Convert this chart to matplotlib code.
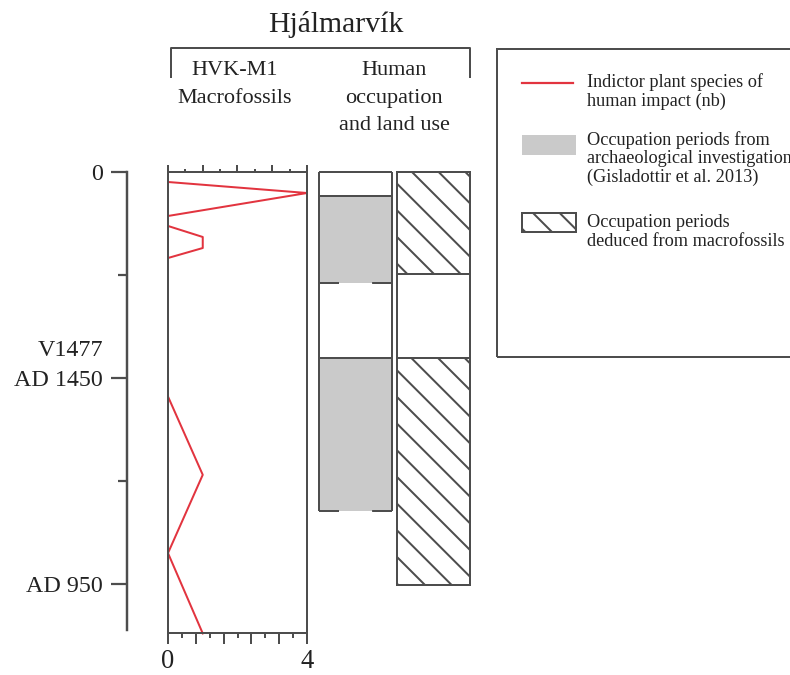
"""plot.py -- Hjalmarvik macrofossil / occupation diagram."""
import matplotlib as mpl
mpl.use('Agg')
import numpy as np
import matplotlib.pyplot as plt
from matplotlib.lines import Line2D
from matplotlib.patches import Rectangle

# ---- data (depth in core units, 0 = top of core) ----
site = 'Hjálmarvík'
depth_ticks = [0, 20, 40]
depth_labels = ['0', 'AD 1450', 'AD 950']
depth_minor = [10, 30]
tephra_label = 'V1477'

macro_depth = [0, 0.97, 2.04, 4.27, 5.24, 6.31, 7.38, 8.35, 21.8, 29.4, 37.0, 44.8]
macro_count = [0, 0, 4, 0, 0, 1, 1, 0, 0, 1, 0, 1]

archaeo_edges = [0, 2.33, 10.78, 18.06, 32.9]
archaeo_occupied = [False, True, False, True]
archaeo_edge_dashed = [False, False, True, False, True]

fossil_edges = [0, 9.9, 18.06, 40.1]
fossil_occupied = [True, False, True]

legend_labels = ['Indictor plant species of\nhuman impact (nb)',
                 'Occupation periods from\narchaeological investigation\n(Gisladottir et al. 2013)',
                 'Occupation periods\ndeduced from macrofossils']

W, H = 790, 675
DPI = 160
D_MAX = 44.8
LC = '#4d4d4d'      # line colour
GREY = '#cacaca'
RED = '#e2343f'
LW = 0.9
HATCH = '\\\\'

mpl.rcParams.update({'font.family': ['Liberation Serif', 'DejaVu Serif'],
                     'lines.scale_dashes': False,
                     'hatch.linewidth': 0.9,
                     'hatch.color': LC,
                     'axes.edgecolor': LC,
                     'xtick.color': LC,
                     'ytick.color': LC,
                     'xtick.labelcolor': '#222222',
                     'ytick.labelcolor': '#222222',
                     'text.color': '#222222'})


def box(x0, y0, x1, y1):
    # pixel box (top-left origin) -> figure fraction rect
    return [x0 / W, 1 - y1 / H, (x1 - x0) / W, (y1 - y0) / H]


def fx(x):
    return x / W


def fy(y):
    return 1 - y / H


fig = plt.figure(figsize=(W / DPI, H / DPI), dpi=DPI)
y_top, y_bot = 172, 172 + D_MAX * 10.3

# depth axis
ax_d = fig.add_axes(box(127, y_top, 128, y_bot))
ax_d.set_ylim(D_MAX, 0)
for s in ['top', 'bottom', 'right']:
    ax_d.spines[s].set_visible(False)
ax_d.spines['left'].set_bounds(0, 44.5)
ax_d.spines['left'].set_linewidth(1.1)
ax_d.set_xticks([])
ax_d.set_yticks(depth_ticks)
ax_d.set_yticklabels(depth_labels, fontsize=10.8)
ax_d.set_yticks(depth_minor, minor=True)
ax_d.tick_params(axis='y', which='major', length=7.2, width=1.0, pad=3.5)
ax_d.tick_params(axis='y', which='minor', length=4, width=1.0)
ax_d.annotate(tephra_label, xy=(0, depth_ticks[1]), xycoords=('axes fraction', 'data'),
              xytext=(-10.7, 13.5), textcoords='offset points',
              ha='right', va='center_baseline', fontsize=10.8)

# macrofossil panel
ax_m = fig.add_axes(box(168, y_top, 307, y_bot))
ax_m.plot(macro_count, macro_depth, color=RED, lw=0.9, clip_on=False)
ax_m.set_xlim(0, 4)
ax_m.set_ylim(D_MAX, 0)
ax_m.set_yticks([])
for s in ax_m.spines.values():
    s.set_linewidth(LW)
ax_m.set_xticks(np.arange(0, 4.01, 0.8))
ax_m.set_xticklabels(['0', '', '', '', '', '4'], fontsize=12)
ax_m.set_xticks(np.arange(0.4, 4, 0.8), minor=True)
ax_m.tick_params(axis='x', which='major', length=5, width=LW, pad=2)
ax_m.tick_params(axis='x', which='minor', length=2.3, width=LW)
ax_t = ax_m.twiny()
ax_t.set_xlim(0, 4)
ax_t.set_xticks(np.arange(0, 4.01, 1))
ax_t.set_xticks(np.arange(0.5, 4, 1), minor=True)
ax_t.set_xticklabels([])
ax_t.tick_params(axis='x', which='major', length=3.2, width=LW)
ax_t.tick_params(axis='x', which='minor', length=1.4, width=LW)
for s in ax_t.spines.values():
    s.set_visible(False)

# archaeological occupation column
ax_a = fig.add_axes(box(319, y_top - 1, 392, y_bot))
ax_a.set_xlim(0, 1)
ax_a.set_ylim(D_MAX, -0.1)
ax_a.axis('off')
for i, occ in enumerate(archaeo_occupied):
    if occ:
        ax_a.bar(0.5, archaeo_edges[i + 1] - archaeo_edges[i], bottom=archaeo_edges[i],
                 width=1, color=GREY, lw=0)
ax_a.vlines([0, 1], archaeo_edges[0], archaeo_edges[-1], color=LC, lw=LW, clip_on=False)
for e, dashed in zip(archaeo_edges, archaeo_edge_dashed):
    ls = (0, (9, 14.9)) if dashed else 'solid'
    ax_a.hlines(e, 0, 1, color=LC, lw=LW, linestyles=[ls], clip_on=False)

# macrofossil-deduced occupation column
ax_h = fig.add_axes(box(397, y_top - 1, 470, y_bot))
ax_h.set_xlim(0, 1)
ax_h.set_ylim(D_MAX, -0.1)
ax_h.axis('off')
for i, occ in enumerate(fossil_occupied):
    ax_h.bar(0.5, fossil_edges[i + 1] - fossil_edges[i], bottom=fossil_edges[i], width=1,
             facecolor='white', edgecolor=LC, lw=LW, hatch=HATCH if occ else None,
             clip_on=False)

# header
fig.text(fx(336), fy(25), site, ha='center', va='center', fontsize=13.4)
fig.add_artist(Line2D([fx(171), fx(171), fx(470), fx(470)],
                      [fy(77), fy(48), fy(48), fy(77)], color=LC, lw=LW,
                      transform=fig.transFigure))
fig.text(fx(235), fy(61), 'HVK-M1\nMacrofossils', ha='center', va='top',
         fontsize=10, linespacing=1.62)
fig.text(fx(394), fy(61), 'Human\noccupation\nand land use', ha='center', va='top',
         fontsize=10, linespacing=1.62)

# legend
fig.add_artist(Rectangle((fx(497), fy(357)), fx(810) - fx(497), fy(49) - fy(357),
                         transform=fig.transFigure, fill=False, ec=LC, lw=LW))
fig.add_artist(Line2D([fx(522), fx(573)], [fy(83), fy(83)], color=RED, lw=1.0,
                      transform=fig.transFigure))
fig.add_artist(Rectangle((fx(522), fy(155)), fx(576) - fx(522), fy(135) - fy(155),
                         transform=fig.transFigure, color=GREY, lw=0))
fig.add_artist(Rectangle((fx(522), fy(232)), fx(576) - fx(522), fy(213) - fy(232),
                         transform=fig.transFigure, facecolor='white', edgecolor=LC,
                         lw=LW, hatch=HATCH))
for y0, txt in zip([73, 131, 214], legend_labels):
    fig.text(fx(587), fy(y0), txt, ha='left', va='top', fontsize=8.2, linespacing=1.12)

fig.savefig('out.png', dpi=DPI)
